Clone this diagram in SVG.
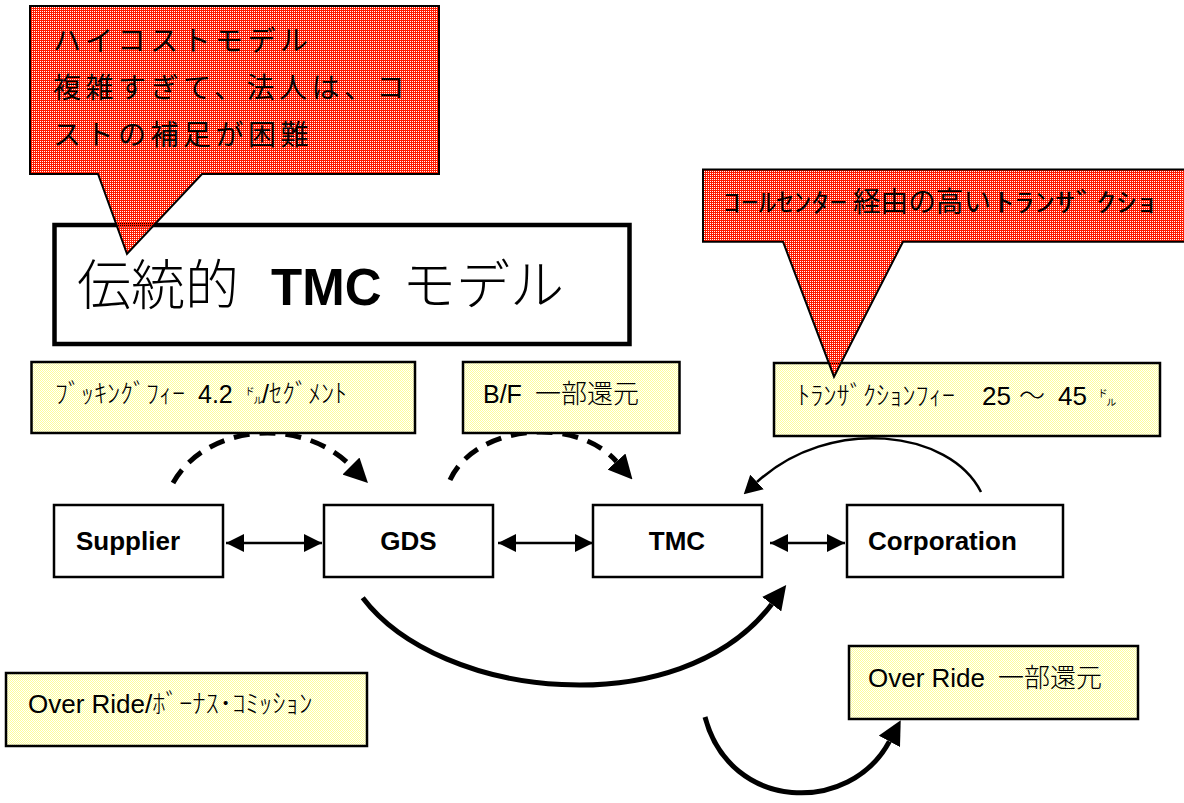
<svg xmlns="http://www.w3.org/2000/svg" width="1184" height="803" viewBox="0 0 1184 803">
  <defs>
    <!-- dithered fills -->
    <pattern id="redDither" width="2" height="2" patternUnits="userSpaceOnUse">
      <rect x="0" y="0" width="1" height="1" fill="#ff1a00"/>
      <rect x="1" y="1" width="1" height="1" fill="#ff1a00"/>
      <rect x="1" y="0" width="1" height="1" fill="#ff1a00"/>
    </pattern>
    <pattern id="yellowDither" width="2" height="2" patternUnits="userSpaceOnUse">
      <rect width="2" height="2" fill="#ffffff"/>
      <rect x="0" y="0" width="1" height="1" fill="#ffff99"/>
      <rect x="1" y="1" width="1" height="1" fill="#ffff99"/>
    </pattern>
    <marker id="headSmall" markerUnits="userSpaceOnUse" markerWidth="18" markerHeight="18" refX="18" refY="9" orient="auto-start-reverse">
      <path d="M0,0 L18,9 L0,18 z" fill="#000"/>
    </marker>
    <marker id="headBig" markerUnits="userSpaceOnUse" markerWidth="24" markerHeight="24" refX="0" refY="12" orient="auto">
      <path d="M0,0 L24,12 L0,24 z" fill="#000"/>
    </marker>
    <marker id="headThin" markerUnits="userSpaceOnUse" markerWidth="18" markerHeight="20" refX="0" refY="10" orient="auto">
      <path d="M0,0 L18,10 L0,20 z" fill="#000"/>
    </marker>
    <style>
      .node { fill: #ffffff; stroke: #000; stroke-width: 2.5; }
      .note { fill: url(#yellowDither); stroke: #000; stroke-width: 2.5; }
      .callout { fill: url(#redDither); stroke: #000; stroke-width: 2; stroke-linejoin: miter; }
      .nodeText { font-family: "Liberation Sans", Arial, sans-serif; font-weight: bold; font-size: 26px; fill: #000; }
      .noteText { font-family: "Liberation Sans", "Noto Sans CJK JP", sans-serif; font-size: 26px; fill: #000; }
      .jp { font-family: "Noto Sans CJK JP", sans-serif; font-weight: 300; fill: #000; }
      .jpCallout { font-family: "Noto Sans CJK JP", sans-serif; font-weight: 400; fill: #000; }
      .kana { font-family: "Noto Sans CJK JP", sans-serif; font-weight: 300; }
      .latin { font-family: "Liberation Sans", Arial, sans-serif; }
      .link { fill: none; stroke: #000; }
    </style>
  </defs>

  <rect width="1184" height="803" fill="#ffffff"/>

  <!-- connectors -->
  <g id="connectors">
    <!-- booking fee: supplier -> GDS -->
    <path class="link" d="M173,483 C205,425 300,415 351,466" stroke-width="5" stroke-dasharray="16 10" marker-end="url(#headBig)"/>
    <!-- partial rebate: GDS -> TMC -->
    <path class="link" d="M450,480 C475,425 575,415 616.5,461.5" stroke-width="5" stroke-dasharray="16 10" marker-end="url(#headBig)"/>
    <!-- transaction fee: corporation -> TMC -->
    <path class="link" d="M981,492 C950,430 830,415 757,482" stroke-width="2.5" marker-end="url(#headThin)"/>
    <!-- two-way links along the chain -->
    <path class="link" d="M226,543 L322,543" stroke-width="2.5" marker-start="url(#headSmall)" marker-end="url(#headSmall)"/>
    <path class="link" d="M498,543 L593,543" stroke-width="2.5" marker-start="url(#headSmall)" marker-end="url(#headSmall)"/>
    <path class="link" d="M770,543 L845,543" stroke-width="2.5" marker-start="url(#headSmall)" marker-end="url(#headSmall)"/>
    <!-- override: GDS -> TMC -->
    <path class="link" d="M362.7,597.7 C440,700 680,725 771.7,604.2" stroke-width="5" marker-end="url(#headBig)"/>
    <!-- override partial rebate -->
    <path class="link" d="M705,717 C730,812 850,815 889.4,741.4" stroke-width="5" marker-end="url(#headBig)"/>
  </g>

  <!-- title -->
  <g id="title">
    <rect x="54.5" y="225" width="575" height="119" fill="#ffffff" stroke="#000" stroke-width="4.5"/>
    <text y="305" font-size="54">
      <tspan class="jp" x="77" font-size="54">伝統的</tspan>
      <tspan class="latin" x="271" font-size="51" font-weight="bold">TMC</tspan>
      <tspan class="jp" x="402" font-size="54">モデル</tspan>
    </text>
  </g>

  <!-- chain nodes -->
  <g id="supplier">
    <rect class="node" x="54" y="505" width="169" height="72"/>
    <text class="nodeText" x="76" y="550">Supplier</text>
  </g>
  <g id="gds">
    <rect class="node" x="324" y="505" width="169" height="72"/>
    <text class="nodeText" x="408.5" y="550" text-anchor="middle">GDS</text>
  </g>
  <g id="tmc">
    <rect class="node" x="593" y="505" width="169" height="72"/>
    <text class="nodeText" x="677" y="550" text-anchor="middle">TMC</text>
  </g>
  <g id="corporation">
    <rect class="node" x="847" y="505" width="216" height="72"/>
    <text class="nodeText" x="868" y="550">Corporation</text>
  </g>

  <!-- fee notes -->
  <g id="note-booking">
    <rect class="note" x="31.5" y="362" width="383.5" height="71"/>
    <text class="noteText" y="403">
      <tspan class="kana" x="55" font-size="26" textLength="130" lengthAdjust="spacingAndGlyphs">ﾌﾞｯｷﾝｸﾞﾌｨｰ</tspan>
      <tspan class="latin" x="198" font-size="25">4.2</tspan>
      <tspan class="kana" x="245" font-size="19">㌦</tspan>
      <tspan x="262" font-size="25">/</tspan><tspan class="kana" font-size="26">ｾｸﾞﾒﾝﾄ</tspan>
    </text>
  </g>
  <g id="note-bf">
    <rect class="note" x="463" y="362" width="216.5" height="71"/>
    <text class="noteText" y="403">
      <tspan class="latin" x="483" font-size="25">B/F</tspan>
      <tspan class="jp" x="535" font-size="26">一部還元</tspan>
    </text>
  </g>
  <g id="note-transaction">
    <rect class="note" x="774" y="363" width="386" height="73"/>
    <text class="noteText" y="405">
      <tspan class="kana" x="797" font-size="26" textLength="158" lengthAdjust="spacingAndGlyphs">ﾄﾗﾝｻﾞｸｼｮﾝﾌｨｰ</tspan>
      <tspan class="latin" x="982" font-size="26">25</tspan>
      <tspan class="jp" x="1019" font-size="26">～</tspan>
      <tspan class="latin" x="1058" font-size="26">45</tspan>
      <tspan class="kana" x="1098" font-size="19">㌦</tspan>
    </text>
  </g>
  <g id="note-override-bonus">
    <rect class="note" x="6" y="673" width="361" height="73"/>
    <text class="noteText" y="713">
      <tspan class="latin" x="28" font-size="26">Over Ride/</tspan><tspan class="kana" font-size="26" textLength="160" lengthAdjust="spacingAndGlyphs">ﾎﾞｰﾅｽ･ｺﾐｯｼｮﾝ</tspan>
    </text>
  </g>
  <g id="note-override-rebate">
    <rect class="note" x="849" y="646" width="289" height="73"/>
    <text class="noteText" y="687">
      <tspan class="latin" x="868" font-size="26">Over Ride</tspan>
      <tspan class="jp" x="998" font-size="26">一部還元</tspan>
    </text>
  </g>

  <!-- callouts -->
  <g id="callout-cost">
    <path class="callout" d="M30,6 L439,6 L439,174 L202,174 L127,254 L98,174 L30,174 Z"/>
    <text class="jpCallout" font-size="28" letter-spacing="4.5">
      <tspan x="53" y="51">ハイコストモデル</tspan>
      <tspan x="53" y="98">複雑すぎて、法人は、コ</tspan>
      <tspan x="53" y="145">ストの補足が困難</tspan>
    </text>
  </g>
  <g id="callout-callcenter">
    <path class="callout" d="M703,169.5 L1186,169.5 L1186,241.7 L903,241.7 L834,376.7 L783,241.7 L703,241.7 Z"/>
    <text y="212" fill="#000">
      <tspan class="jpCallout" x="723" font-size="26" textLength="124" lengthAdjust="spacingAndGlyphs">ｺｰﾙｾﾝﾀｰ</tspan>
      <tspan class="jpCallout" x="853" font-size="28" textLength="138" lengthAdjust="spacingAndGlyphs">経由の高い</tspan>
      <tspan class="jpCallout" x="994" font-size="26" textLength="163" lengthAdjust="spacingAndGlyphs">ﾄﾗﾝｻﾞｸｼｮ</tspan>
    </text>
  </g>
</svg>
